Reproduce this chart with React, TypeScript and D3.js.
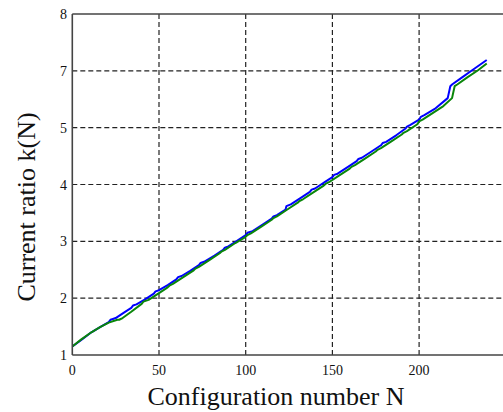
import React from "react";
import * as d3 from "d3";

const blueN = [0, 5, 11, 16, 21, 22, 23, 25, 30, 34, 35, 37, 42, 47, 48, 50, 55, 60, 61, 63, 68, 73, 74, 76, 82, 87, 88, 90, 95, 100, 101, 104, 110, 115, 116, 118, 123, 123.5, 126, 132, 137, 138, 140, 146, 150, 151, 153, 159, 164, 165, 167, 173, 178, 179, 181, 187, 192, 193, 195, 200, 201, 203, 209, 216.5, 218, 219, 225, 231, 239];
const blueV = [1.15, 1.26, 1.40, 1.49, 1.58, 1.62, 1.63, 1.65, 1.75, 1.83, 1.87, 1.89, 1.98, 2.08, 2.12, 2.14, 2.23, 2.33, 2.37, 2.39, 2.48, 2.58, 2.62, 2.64, 2.75, 2.85, 2.89, 2.91, 3.01, 3.11, 3.15, 3.18, 3.30, 3.40, 3.44, 3.46, 3.56, 3.62, 3.65, 3.77, 3.87, 3.91, 3.93, 4.05, 4.13, 4.17, 4.19, 4.31, 4.41, 4.45, 4.47, 4.59, 4.69, 4.73, 4.75, 4.87, 4.98, 5.02, 5.05, 5.14, 5.19, 5.22, 5.33, 5.52, 5.73, 5.76, 5.89, 6.02, 6.19];

const greenN = [0, 5, 11, 16, 21, 26, 27, 29, 34, 40, 41, 44, 50, 55, 56, 58, 64, 70, 71, 73, 79, 85, 86, 88, 94, 100, 101, 103, 109, 115, 116, 118, 124, 130, 131, 133, 139, 145, 146, 148, 154, 160, 161, 163, 169, 175, 176, 178, 184, 190, 191, 193, 199, 200, 202, 208, 214, 219, 220.5, 222, 228, 234, 239];
const greenV = [1.15, 1.27, 1.40, 1.49, 1.57, 1.62, 1.62, 1.65, 1.76, 1.90, 1.94, 1.97, 2.09, 2.19, 2.22, 2.25, 2.37, 2.49, 2.52, 2.55, 2.67, 2.79, 2.82, 2.85, 2.97, 3.08, 3.11, 3.14, 3.26, 3.38, 3.41, 3.44, 3.56, 3.68, 3.71, 3.74, 3.86, 3.98, 4.01, 4.04, 4.16, 4.28, 4.31, 4.34, 4.46, 4.58, 4.61, 4.64, 4.76, 4.88, 4.91, 4.94, 5.06, 5.11, 5.14, 5.26, 5.38, 5.52, 5.73, 5.76, 5.89, 6.01, 6.13];

const xTicks = [0, 50, 100, 150, 200];
const yTicks = [1, 2, 3, 4, 5, 6, 7];
const yTickLabels = ["1", "2", "3", "4", "5", "7", "8"];

export default function App() {
  const W = 503, H = 412;
  const left = 72.3, top = 14, bottom = 355;
  const x = d3.scaleLinear().domain([0, 250]).range([left, 505.8]);
  const y = d3.scaleLinear().domain([1, 7]).range([bottom, top]);
  const line = d3.line<[number, number]>().x(d => x(d[0])).y(d => y(d[1]));
  const blue: [number, number][] = blueN.map((n, i) => [n, blueV[i]]);
  const green: [number, number][] = greenN.map((n, i) => [n, greenV[i]]);
  const font = '"Liberation Serif", "Times New Roman", Tinos, "DejaVu Serif", serif';
  return (
    <svg width={W} height={H} style={{ position: "absolute", left: 0, top: 0, background: "#fff" }}>
      <defs>
        <clipPath id="plot">
          <rect x={left} y={top} width={W - left} height={bottom - top} />
        </clipPath>
      </defs>
      <rect width={W} height={H} fill="#fff" />
      {xTicks.filter(t => t > 0).map(t => (
        <line key={"gx" + t} x1={x(t)} x2={x(t)} y1={top} y2={bottom} stroke="#222" strokeWidth={1.2} strokeDasharray="5,3" />
      ))}
      {yTicks.filter(t => t > 1 && t < 7).map(t => (
        <line key={"gy" + t} x1={left} x2={W} y1={y(t)} y2={y(t)} stroke="#222" strokeWidth={1.2} strokeDasharray="5,3" />
      ))}
      <g clipPath="url(#plot)">
        <path d={line(blue) || ""} fill="none" stroke="#0000ff" strokeWidth={2} strokeLinejoin="round" />
        <path d={line(green) || ""} fill="none" stroke="#0a860a" strokeWidth={2} strokeLinejoin="round" />
      </g>
      <line x1={left} x2={left} y1={top} y2={bottom} stroke="#444" strokeWidth={1.6} />
      <line x1={left} x2={W} y1={bottom} y2={bottom} stroke="#444" strokeWidth={1.6} />
      <line x1={left} x2={W} y1={top} y2={top} stroke="#444" strokeWidth={1.6} />
      <g style={{ fontFamily: font }} fill="#111">
        {xTicks.map(t => (
          <text key={"tx" + t} x={x(t)} y={375} textAnchor="middle" fontSize={14}>{t}</text>
        ))}
        {yTicks.map((t, i) => (
          <text key={"ty" + t} x={67} y={y(t) + 5} textAnchor="end" fontSize={14}>{yTickLabels[i]}</text>
        ))}
        <text x={276} y={405} textAnchor="middle" fontSize={26}>Configuration number N</text>
        <text transform={`translate(35,207) rotate(-90)`} textAnchor="middle" fontSize={26}>Current ratio k(N)</text>
      </g>
    </svg>
  );
}
